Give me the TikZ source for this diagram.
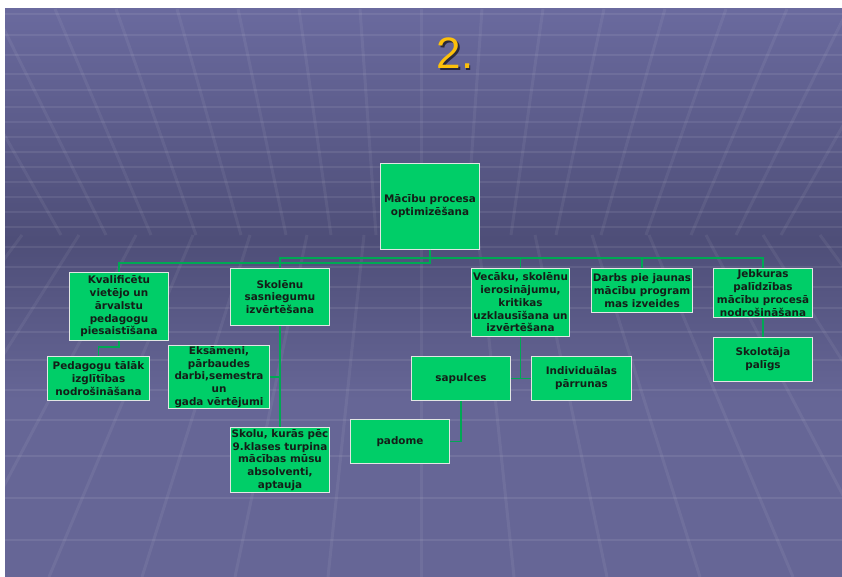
\documentclass[tikz,border=0pt]{standalone}
\usepackage{fontspec}
\setmainfont{DejaVu Sans}
\newfontfamily\titlefont{Liberation Sans}
\usetikzlibrary{positioning}
\definecolor{boxgreen}{RGB}{0,206,104}
\definecolor{boxrim}{RGB}{226,230,228}
\definecolor{boxtext}{RGB}{20,30,24}
\definecolor{linkgreen}{RGB}{0,168,84}
\definecolor{slidetop}{RGB}{106,106,158}
\definecolor{slidemid}{RGB}{78,78,120}
\definecolor{slidelow}{RGB}{102,102,150}
\definecolor{titlegold}{RGB}{252,192,10}
\tikzset{
semithick,
x=1pt,y=-1pt,
box/.style={draw=boxrim,fill=boxgreen,line width=1.4pt,inner sep=0pt,align=center,
  text=boxtext,font=\bfseries\fontsize{10.4}{12.8}\selectfont},
link/.style={draw=linkgreen,line width=1.2pt},
hline/.style={draw=white,opacity=0.08,line width=1.6pt},
dline/.style={draw=white,opacity=0.06,line width=3pt}
}

\begin{document}
\begin{tikzpicture}
% slide background
\fill[white] (0,0) rectangle (842,577);
\useasboundingbox (0,0) rectangle (842,577);
\shade[top color=slidetop,bottom color=slidemid] (5,9) rectangle (842,240);
\shade[top color=slidemid,bottom color=slidelow] (5,240) rectangle (842,400);
\fill[slidelow] (5,400) rectangle (842,577);
\begin{scope}
\clip (5,9) rectangle (842,577);
\foreach \y in {14,35,55,74,90,107,122,137,152,167,182,197,212,227,247,267,287,308,332,360,390,420,456,498,540}
  \draw[hline] (5,\y) -- (842,\y);
\foreach \k in {-8,...,8}
  \draw[dline] ({421+61*\k},9) -- ({421+45*\k},235);
\foreach \k in {-7,...,7}
  \draw[dline] ({421+57*\k},235) -- ({421+93*\k},577);
\end{scope}

% title
\node[font=\titlefont\fontsize{44}{44}\selectfont,text=black,opacity=0.6] at (456.5,55) {2.};
\node[font=\titlefont\fontsize{44}{44}\selectfont,text=titlegold] (title) at (455,53.5) {2.};

% chart
\node[box,minimum width=98.5pt,minimum height=85.5pt] (root) at (430,206.5) {Mācību procesa\\optimizēšana};
\node[box,minimum width=98.5pt,minimum height=67.5pt] (kval) at (119,306.5) {Kvalificētu\\vietējo un\\ārvalstu\\pedagogu\\piesaistīšana};
\node[box,minimum width=98.5pt,minimum height=56.5pt] (sasn) at (280,297) {Skolēnu\\sasniegumu\\izvērtēšana};
\node[box,minimum width=97.5pt,minimum height=67.5pt] (vec) at (520.5,302.5) {Vecāku, skolēnu\\ierosinājumu,\\kritikas\\uzklausīšana un\\izvērtēšana};
\node[box,minimum width=100.5pt,minimum height=43.5pt] (darbs) at (642,290.5) {Darbs pie jaunas\\mācību program\\mas izveides};
\node[box,minimum width=98.5pt,minimum height=48.5pt] (jebk) at (763,293) {Jebkuras\\palīdzības\\mācību procesā\\nodrošināšana};
\node[box,minimum width=101.5pt,minimum height=43.5pt] (ped) at (98.5,378.5) {Pedagogu tālāk\\izglītības\\nodrošināšana};
\node[box,minimum width=100.5pt,minimum height=62.5pt] (eks) at (219,377) {Eksāmeni,\\pārbaudes\\darbi,semestra\\un\\gada vērtējumi};
\node[box,minimum width=98.5pt,minimum height=64.5pt] (skolu) at (280,460) {Skolu, kurās pēc\\9.klases turpina\\mācības mūsu\\absolventi,\\aptauja};
\node[box,minimum width=98.5pt,minimum height=43.5pt] (sap) at (461,378.5) {sapulces};
\node[box,minimum width=99.5pt,minimum height=43.5pt] (indiv) at (581.5,378.5) {Individuālas\\pārrunas};
\node[box,minimum width=98.5pt,minimum height=43.5pt] (pad) at (400,441.5) {padome};
\node[box,minimum width=98.5pt,minimum height=43.5pt] (palig) at (763,359.5) {Skolotāja\\palīgs};

\draw[link] (root.south) -- ++(0,13) -| (kval.north);
\draw[link] (root.south) -- ++(0,8) -| (sasn.north);
\draw[link] (root.south) -- ++(0,8) -| (vec.north);
\draw[link] (root.south) -- ++(0,8) -| (darbs.north);
\draw[link] (root.south) -- ++(0,8) -| (jebk.north);
\draw[link] (kval.south) -- ++(0,6) -| (ped.north);
\draw[link] (sasn.south) |- (eks.east);
\draw[link] (sasn.south) -- (skolu.north);
\draw[link] (vec.south) |- (sap.east);
\draw[link] (sap.east) -- (indiv.west);
\draw[link] (sap.south) |- (pad.east);
\draw[link] (jebk.south) -- (palig.north);
\end{tikzpicture}
\end{document}
